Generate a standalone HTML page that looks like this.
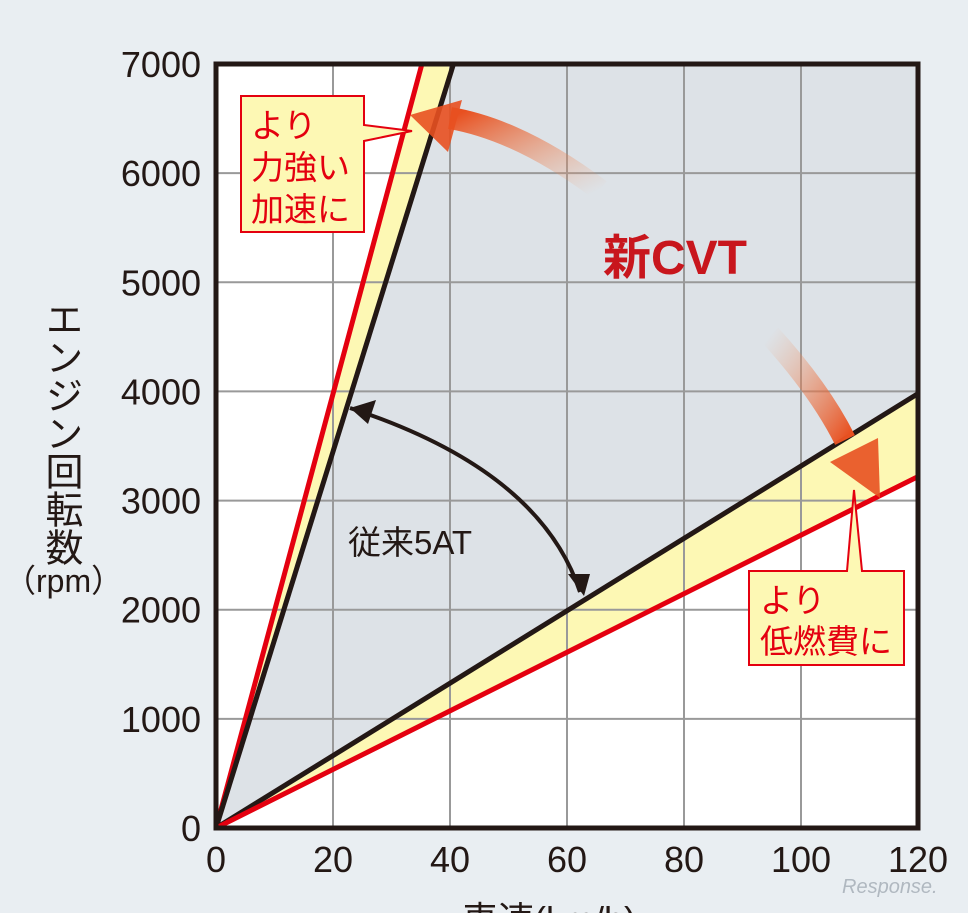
<!DOCTYPE html>
<html><head><meta charset="utf-8"><style>
body{margin:0;width:968px;height:913px;overflow:hidden;background:#e9eef2;font-family:"Liberation Sans","Noto Sans CJK JP",sans-serif}
svg{position:absolute;left:0;top:0}
</style></head><body>
<svg width="968" height="913" id="c">
<defs>
<linearGradient id="g1" x1="1" y1="1" x2="0" y2="0"><stop offset="0" stop-color="#f0a070" stop-opacity="0"/><stop offset="1" stop-color="#e85020"/></linearGradient>
<linearGradient id="g2" x1="0" y1="0" x2="1" y2="1"><stop offset="0" stop-color="#f0a070" stop-opacity="0"/><stop offset="1" stop-color="#e85020"/></linearGradient>
<clipPath id="pc"><rect x="216" y="64" width="702" height="764"/></clipPath>
</defs>
<g id="plot"></g>
</svg>
<script>
const xTicks=[0,20,40,60,80,100,120];
const yTicks=[0,1000,2000,3000,4000,5000,6000,7000];
const cvtLowGear=[0,7000,35.2];
const at5Low=[0,7000,40.6];
const at5High=[120,3980];
const cvtHigh=[120,3220];
const X=v=>216+v/120*702, Y=v=>828-v/7000*764;
const ns='http://www.w3.org/2000/svg', g=document.getElementById('plot');
function el(t,a,p){const e=document.createElementNS(ns,t);for(const k in a)e.setAttribute(k,a[k]);(p||g).appendChild(e);return e;}
const cg=el('g',{'clip-path':'url(#pc)'});
el('rect',{x:216,y:64,width:702,height:764,fill:'#fff'},cg);
el('polygon',{points:`${X(0)},${Y(0)} ${X(cvtLowGear[2])},${Y(7000)} ${X(at5Low[2])},${Y(7000)}`,fill:'#fdf8b4'},cg);
el('polygon',{points:`${X(0)},${Y(0)} ${X(120)},${Y(at5High[1])} ${X(120)},${Y(cvtHigh[1])}`,fill:'#fdf8b4'},cg);
el('polygon',{points:`${X(0)},${Y(0)} ${X(at5Low[2])},${Y(7000)} ${X(120)},${Y(7000)} ${X(120)},${Y(at5High[1])}`,fill:'#dde2e7'},cg);
const gl=el('g',{},cg);
xTicks.forEach(v=>el('line',{x1:X(v),x2:X(v),y1:64,y2:828,stroke:'#999','stroke-width':2},gl));
yTicks.forEach(v=>el('line',{x1:216,x2:918,y1:Y(v),y2:Y(v),stroke:'#999','stroke-width':2},gl));
let l;
l=el('line',{x1:X(0),y1:Y(0),x2:X(cvtLowGear[2]),y2:Y(7000),stroke:'#e4000f','stroke-width':5},cg);

l=el('line',{x1:X(0),y1:Y(0),x2:X(at5Low[2]),y2:Y(7000),stroke:'#231815','stroke-width':5},cg);

l=el('line',{x1:X(0),y1:Y(0),x2:X(120),y2:Y(at5High[1]),stroke:'#231815','stroke-width':5},cg);

l=el('line',{x1:X(0),y1:Y(0),x2:X(120),y2:Y(cvtHigh[1]),stroke:'#e4000f','stroke-width':5},cg);

el('rect',{x:216,y:64,width:702,height:764,fill:'none',stroke:'#231815','stroke-width':5});
xTicks.forEach(v=>{const t=el('text',{x:X(v),y:872,'font-size':36,'text-anchor':'middle',fill:'#231815'});t.textContent=v;});
yTicks.forEach(v=>{const t=el('text',{x:201,y:Y(v)+13,'font-size':36,'text-anchor':'end',fill:'#231815'});t.textContent=v;});
</script>
<svg width="968" height="913">
<text x="60" y="300" font-size="38" fill="#231815" style="writing-mode:vertical-rl">エンジン回転数</text>
<text x="4" y="592" font-size="32" fill="#231815">（rpm）</text>
<text x="462" y="932" font-size="36" fill="#231815">車速(km/h)</text>
<path d="M600,190 Q520,130 450,118" stroke="url(#g1)" stroke-width="22" fill="none"/>
<polygon points="410,115 462,100 448,152" fill="#e85020" opacity="0.9"/>
<path d="M770,335 Q820,390 845,440" stroke="url(#g2)" stroke-width="22" fill="none"/>
<polygon points="880,498 878,438 830,462" fill="#e85020" opacity="0.9"/>
<text x="603" y="274" font-size="48" font-weight="bold" fill="#c8161d">新CVT</text>
<path d="M350,408 Q540,470 580,592" stroke="#231815" stroke-width="4" fill="none"/>
<polygon points="350,408 376,400 368,424" fill="#231815"/>
<polygon points="584,596 568,574 590,574" fill="#231815"/>
<text x="348" y="554" font-size="33" fill="#231815">従来5AT</text>
<g>
<polygon points="241,96 364,96 364,125 412,131 364,141 364,232 241,232" fill="#fdf8b4" stroke="#e4000f" stroke-width="2"/>
<text x="251" y="137" font-size="33" fill="#e4000f">より</text>
<text x="251" y="179" font-size="33" fill="#e4000f">力強い</text>
<text x="251" y="221" font-size="33" fill="#e4000f">加速に</text>
</g>
<g>
<polygon points="749,571 847,571 854,490 862,571 904,571 904,665 749,665" fill="#fdf8b4" stroke="#e4000f" stroke-width="2"/>
<text x="760" y="612" font-size="33" fill="#e4000f">より</text>
<text x="760" y="653" font-size="33" fill="#e4000f">低燃費に</text>
</g>
<text x="842" y="893" font-size="20" font-style="italic" fill="#b0b8c0">Response.</text>
</svg>
</body></html>
